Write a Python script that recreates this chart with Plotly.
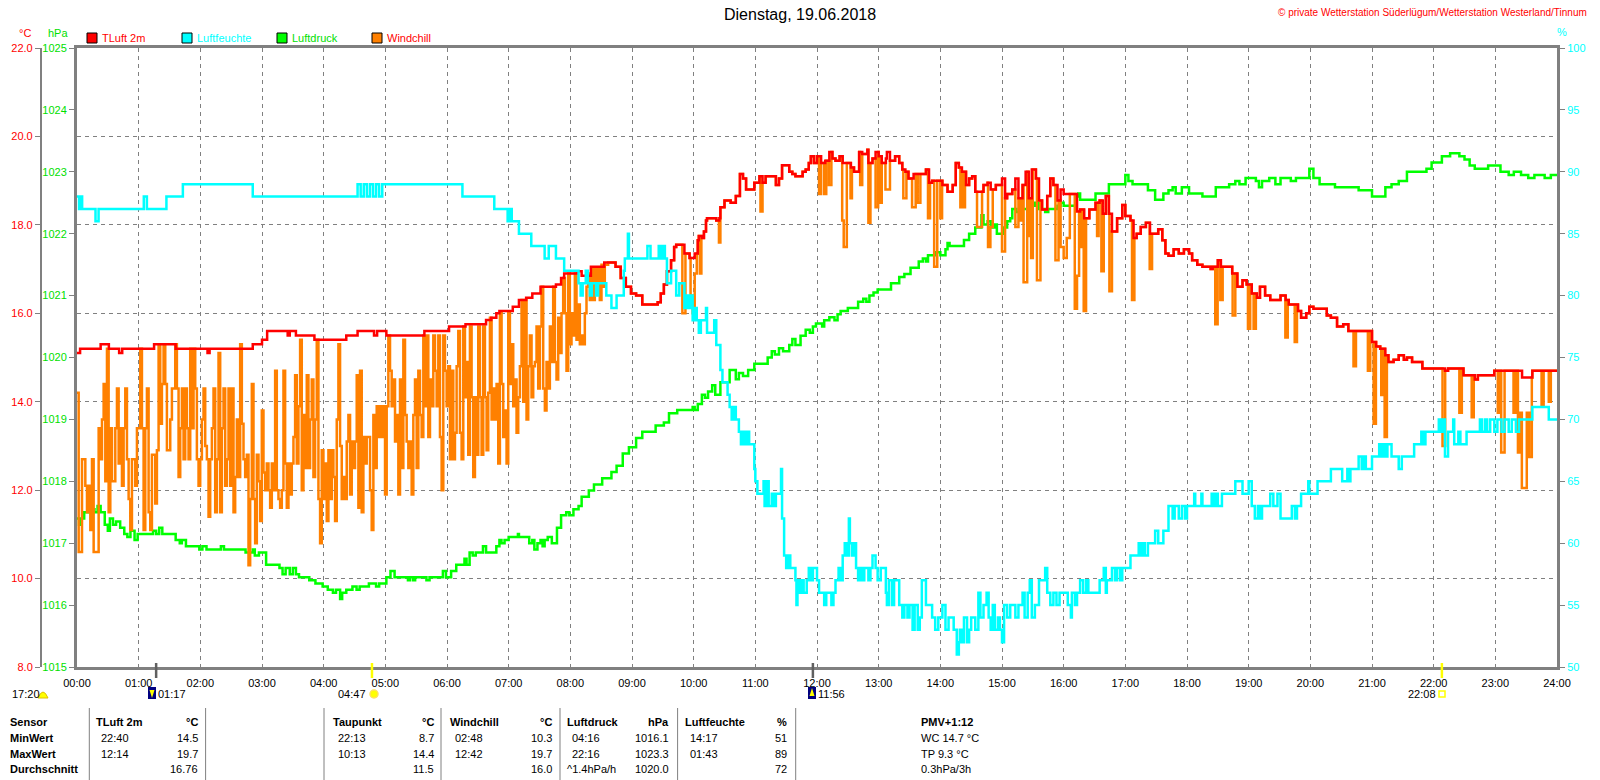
import bisect
import plotly.graph_objects as go

# ---------------------------------------------------------------- data
# times are minutes after midnight
tluft_min = [0, 3, 23, 31, 41, 44, 75, 96, 127, 129, 171, 180, 185, 205, 207, 213, 231, 262, 273, 289,
             292, 301, 338, 362, 378, 398, 403, 408, 411, 424, 430, 437, 443, 451, 466, 471, 474, 487,
             491, 500, 513, 524, 529, 534, 539, 544, 550, 565, 568, 571, 574, 578, 581, 583, 591, 596,
             601, 604, 605, 608, 610, 612, 613, 622, 625, 626, 630, 636, 641, 645, 648, 651, 659, 664,
             667, 670, 680, 683, 686, 693, 696, 699, 706, 709, 712, 714, 717, 720, 724, 728, 732, 735,
             738, 742, 745, 753, 756, 761, 764, 769, 770, 774, 777, 780, 783, 787, 788, 791, 796, 800,
             803, 806, 809, 814, 826, 829, 832, 842, 847, 852, 855, 858, 861, 865, 868, 871, 874, 882,
             886, 889, 894, 900, 903, 905, 910, 913, 916, 920, 923, 926, 929, 933, 936, 939, 944, 947,
             950, 954, 957, 960, 973, 976, 980, 985, 991, 995, 998, 1001, 1004, 1007, 1012, 1017, 1020,
             1025, 1028, 1031, 1035, 1040, 1044, 1052, 1056, 1059, 1062, 1067, 1072, 1077, 1082, 1085,
             1090, 1095, 1103, 1105, 1110, 1113, 1124, 1129, 1134, 1138, 1143, 1148, 1151, 1156, 1161,
             1171, 1176, 1179, 1188, 1191, 1196, 1199, 1203, 1216, 1220, 1226, 1232, 1237, 1260, 1264,
             1268, 1273, 1276, 1281, 1286, 1291, 1294, 1299, 1309, 1331, 1334, 1349, 1360, 1363, 1379,
             1406, 1416, 1440]
tluft_val = [15.1, 15.2, 15.3, 15.2, 15.1, 15.2, 15.3, 15.2, 15.1, 15.2, 15.3, 15.4, 15.6, 15.5, 15.6,
             15.5, 15.4, 15.5, 15.6, 15.5, 15.6, 15.5, 15.6, 15.7, 15.75, 15.85, 15.9, 16.0, 16.05,
             16.15, 16.3, 16.35, 16.45, 16.6, 16.65, 16.8, 16.9, 16.95, 16.85, 17.05, 17.15, 17.05,
             16.8, 16.6, 16.45, 16.4, 16.2, 16.25, 16.45, 16.65, 16.95, 17.2, 17.5, 17.55, 17.35, 17.25,
             17.35, 17.65, 17.75, 17.7, 17.85, 18.1, 18.15, 18.1, 18.15, 18.4, 18.55, 18.5, 18.65,
             19.15, 19.05, 18.8, 18.95, 19.1, 18.95, 19.1, 18.9, 19.05, 19.35, 19.2, 19.15, 19.1, 19.2,
             19.25, 19.4, 19.55, 19.4, 19.55, 19.4, 19.45, 19.65, 19.5, 19.45, 19.55, 19.4, 19.3, 19.2,
             19.65, 19.6, 19.7, 19.4, 19.5, 19.65, 19.55, 19.4, 19.5, 19.65, 19.45, 19.55, 19.4, 19.25,
             19.2, 19.05, 19.15, 19.25, 18.95, 19.0, 18.9, 18.75, 18.9, 19.4, 19.3, 19.2, 18.9, 19.05,
             19.1, 18.75, 18.9, 18.95, 18.8, 18.9, 19.05, 18.6, 18.7, 18.8, 19.05, 18.6, 18.9, 19.2,
             18.6, 19.25, 19.05, 18.55, 18.35, 18.65, 19.05, 18.9, 18.55, 18.8, 18.7, 18.3, 18.35,
             18.15, 18.35, 18.5, 18.55, 18.25, 18.65, 18.25, 17.85, 18.15, 18.45, 18.2, 18.1, 17.7,
             17.8, 17.95, 18.05, 17.8, 17.9, 17.65, 17.35, 17.3, 17.45, 17.35, 17.45, 17.35, 17.2, 17.1,
             17.05, 17.0, 17.05, 17.2, 17.05, 16.9, 16.6, 16.75, 16.65, 16.45, 16.35, 16.6, 16.4, 16.3,
             16.4, 16.3, 16.2, 16.05, 15.9, 16.0, 16.15, 16.1, 15.95, 15.9, 15.7, 15.75, 15.6, 15.35,
             15.25, 15.2, 15.05, 14.9, 14.95, 15.05, 14.95, 15.0, 14.9, 14.75, 14.7, 14.75, 14.6, 14.5,
             14.6, 14.7, 14.55, 14.7, 14.7]

feuchte_min = [0, 2, 4, 5, 18, 21, 65, 68, 87, 103, 171, 273, 276, 279, 282, 285, 288, 291, 294, 297,
               300, 375, 406, 419, 421, 423, 430, 442, 455, 459, 466, 474, 488,
               490, 492, 495, 497, 499, 501, 505, 507, 515, 520, 525, 532, 533, 536, 537, 555, 558, 566,
               568, 570, 572, 574, 578, 583, 586, 591, 593, 595, 597, 599, 601, 603, 605, 607, 612, 613,
               620, 622, 626, 628, 633, 635, 637, 639, 641, 644, 646, 648, 650, 652, 654, 659, 660, 662,
               668, 669, 671, 673, 676, 678, 680, 685, 686, 688, 690, 692, 694, 699, 700, 701, 703, 705,
               707, 710, 712, 714, 716, 720, 722, 727, 729, 734, 736, 738, 741, 743, 745, 747, 749, 751,
               752, 754, 756, 758, 760, 762, 764, 766, 770, 772, 774, 777, 779, 782, 787, 788, 790, 793,
               795, 800, 803, 805, 808, 810, 813, 815, 818, 820, 822, 826, 832, 835, 838, 842, 845, 848,
               853, 856, 858, 859, 861, 863, 866, 868, 870, 874, 877, 879, 882, 885, 887, 889, 891, 893,
               896, 898, 900, 902, 905, 908, 913, 916, 920, 922, 925, 927, 929, 932, 936, 942, 944, 947,
               950, 953, 956, 964, 967, 968, 971, 973, 976, 979, 982, 984, 995, 999, 1001, 1002, 1007,
               1010, 1012, 1015, 1017, 1025, 1033, 1035, 1037, 1039, 1042, 1049, 1052, 1057, 1062, 1066,
               1068, 1072, 1075, 1078, 1080, 1087, 1088, 1094, 1095, 1104, 1106, 1108, 1110, 1114, 1127,
               1134, 1140, 1143, 1146, 1149, 1151, 1153, 1161, 1164, 1168, 1171, 1182, 1185, 1187, 1191,
               1198, 1199, 1207, 1220, 1231, 1236, 1237, 1239, 1247, 1250, 1252, 1254, 1260, 1267, 1269,
               1271, 1273, 1275, 1279, 1286, 1289, 1301, 1308, 1310, 1312, 1325, 1327, 1329, 1331, 1334,
               1339, 1340, 1344, 1346, 1352, 1365, 1367, 1370, 1372, 1375, 1379, 1382, 1386, 1389, 1393,
               1396, 1400, 1403, 1416, 1432, 1440]
feuchte_val = [88, 87, 88, 87, 86, 87, 88, 87, 88, 89, 88, 89, 88, 89, 88, 89, 88, 89, 88, 89,
               89, 88, 87, 86, 87, 86, 85, 84, 83, 84, 83, 82, 81,
               80, 81, 82, 81, 80, 81, 80, 81, 80, 79, 80, 82, 83, 85, 83, 84, 83, 84,
               83, 84, 83, 81, 82, 80, 81, 79, 80, 79, 80, 78, 79, 78, 77, 78, 79, 77,
               78, 76, 74, 73, 72, 71, 70, 71, 70, 69, 68, 69, 68, 69, 68, 66, 65, 64,
               65, 63, 65, 63, 64, 63, 64, 66, 62, 59, 58, 59, 58, 57, 55, 57, 56, 57,
               56, 57, 58, 57, 58, 57, 56, 55, 56, 55, 56, 57, 58, 57, 59, 60, 59, 62,
               60, 59, 60, 58, 57, 58, 57, 58, 57, 58, 59, 58, 57, 58, 56, 55, 57, 55,
               57, 55, 54, 55, 54, 55, 53, 55, 53, 54, 57, 55, 54, 53, 54, 55, 53, 54,
               53, 51, 52, 53, 52, 54, 52, 53, 54, 53, 56, 54, 55, 56, 54, 53, 55, 53,
               54, 53, 52, 55, 54, 55, 54, 55, 56, 54, 56, 57, 54, 55, 57, 58, 56, 55,
               56, 55, 56, 55, 54, 56, 55, 56, 57, 56, 57, 56, 57, 58, 56, 57, 58,
               57, 58, 57, 58, 59, 60, 59, 60, 59, 60, 61, 60, 61, 63, 62,
               63, 62, 63, 62, 63, 64, 63, 64, 63, 64, 63, 64, 63, 64, 65,
               64, 65, 63, 62, 63, 62, 63, 64, 63, 64, 62, 63, 62, 63, 64,
               65, 64, 65, 66, 65, 66, 65, 66, 67, 66, 67, 66, 67, 68, 67,
               68, 67, 68, 67, 66, 67, 68, 69, 68, 69, 70, 69, 70, 67, 69,
               70, 68, 69, 68, 69, 70, 69, 70, 69, 70, 69, 70, 69, 70, 69,
               70, 69, 70, 71, 70, 70]

druck_min = [0, 2, 4, 7, 14, 17, 20, 23, 27, 30, 32, 35, 38, 42, 46, 49, 52, 56, 59, 74, 77, 80, 83,
             96, 100, 102, 106, 119, 122, 126, 140, 143, 164, 171, 173, 177, 184, 197, 200, 203, 207,
             210, 213, 216, 226, 232, 239, 244, 249, 252, 256, 258, 262, 268, 272, 275, 284, 291, 294,
             301, 305, 309, 322, 324, 327, 329, 340, 343, 356, 359, 364, 369, 377, 379, 382, 385, 388,
             395, 398, 408, 411, 413, 416, 420, 429, 430, 440, 443, 445, 448, 451, 453, 455, 458, 462,
             467, 471, 476, 479, 483, 488, 491, 498, 503, 511, 520, 525, 531, 537, 544, 550, 563, 571,
             576, 584, 599, 601, 604, 608, 611, 614, 618, 621, 626, 635, 641, 644, 648, 653, 659, 672,
             676, 679, 683, 687, 693, 696, 699, 704, 709, 713, 716, 719, 725, 727, 732, 737, 740, 743,
             750, 760, 765, 768, 771, 775, 779, 792, 800, 805, 811, 819, 823, 826, 828, 835, 840, 845,
             847, 849, 863, 868, 874, 880, 882, 886, 889, 893, 895, 902, 905, 908, 910, 914, 917, 929,
             932, 934, 936, 942, 945, 954, 957, 960, 972, 974, 976, 991, 1004, 1020, 1023, 1027, 1042,
             1049, 1057, 1062, 1066, 1069, 1075, 1082, 1095, 1108, 1121, 1127, 1131, 1137, 1147, 1150,
             1153, 1160, 1166, 1171, 1181, 1186, 1199, 1203, 1209, 1224, 1247, 1260, 1273, 1279, 1286,
             1294, 1313, 1318, 1328, 1336, 1345, 1350, 1355, 1360, 1373, 1385, 1393, 1398, 1405, 1412,
             1418, 1428, 1434, 1440]
druck_val = [1017.4, 1017.3, 1017.4, 1017.5, 1017.55, 1017.5, 1017.6, 1017.5, 1017.3, 1017.2, 1017.4,
             1017.3, 1017.35, 1017.25, 1017.15, 1017.1, 1017.2, 1017.05, 1017.15, 1017.2, 1017.15,
             1017.25, 1017.15, 1017.05, 1017.0, 1017.05, 1016.95, 1016.9, 1016.95, 1016.9, 1016.95,
             1016.9, 1016.85, 1016.9, 1016.8, 1016.85, 1016.65, 1016.6, 1016.5, 1016.6, 1016.5,
             1016.6, 1016.5, 1016.45, 1016.4, 1016.35, 1016.3, 1016.25, 1016.2, 1016.25, 1016.1,
             1016.2, 1016.25, 1016.3, 1016.25, 1016.3, 1016.35, 1016.3, 1016.35, 1016.45, 1016.55,
             1016.45, 1016.4, 1016.45, 1016.4, 1016.45, 1016.4, 1016.45, 1016.55, 1016.45, 1016.55,
             1016.65, 1016.75, 1016.65, 1016.85, 1016.8, 1016.85, 1016.95, 1016.85, 1016.95, 1017.05,
             1017.0, 1017.05, 1017.1, 1017.15, 1017.1, 1017.0, 1017.05, 1016.9, 1017.0, 1017.05,
             1016.95, 1017.05, 1017.1, 1017.0, 1017.25, 1017.45, 1017.5, 1017.45, 1017.55, 1017.6,
             1017.75, 1017.85, 1017.95, 1018.05, 1018.15, 1018.25, 1018.45, 1018.55, 1018.7, 1018.8,
             1018.9, 1018.95, 1019.1, 1019.15, 1019.2, 1019.15, 1019.25, 1019.4, 1019.35, 1019.45,
             1019.55, 1019.4, 1019.6, 1019.8, 1019.65, 1019.75, 1019.7, 1019.8, 1019.9, 1020.0,
             1020.1, 1020.05, 1020.15, 1020.1, 1020.2, 1020.3, 1020.2, 1020.35, 1020.45, 1020.4,
             1020.5, 1020.55, 1020.5, 1020.6, 1020.65, 1020.6, 1020.7, 1020.75, 1020.8, 1020.9,
             1020.95, 1020.9, 1021.0, 1021.05, 1021.1, 1021.2, 1021.3, 1021.35, 1021.45, 1021.55,
             1021.6, 1021.55, 1021.65, 1021.7, 1021.65, 1021.75, 1021.85, 1021.8, 1021.9, 1022.0,
             1022.1, 1022.3, 1022.15, 1022.2, 1022.1, 1022.15, 1022.0, 1022.1, 1022.2, 1022.25,
             1022.4, 1022.35, 1022.4, 1022.5, 1022.45, 1022.5, 1022.4, 1022.35, 1022.4, 1022.45,
             1022.5, 1022.45, 1022.6, 1022.65, 1022.55, 1022.65, 1022.8, 1022.95, 1022.85, 1022.8,
             1022.7, 1022.55, 1022.65, 1022.7, 1022.75, 1022.65, 1022.75, 1022.65, 1022.6, 1022.75,
             1022.8, 1022.85, 1022.8, 1022.9, 1022.85, 1022.75, 1022.85, 1022.9, 1022.8, 1022.9,
             1022.85, 1022.9, 1023.05, 1022.9, 1022.8, 1022.75, 1022.7, 1022.6, 1022.75, 1022.8,
             1022.85, 1023.0, 1023.05, 1023.15, 1023.25, 1023.3, 1023.25, 1023.2, 1023.1, 1023.05,
             1023.1, 1023.0, 1022.95, 1023.0, 1022.95, 1022.9, 1022.95, 1022.9, 1022.95, 1022.95]

# windchill, gusty night/morning: one reading per log step from 00:00
wc_log_step = 1.62  # minutes
wc_log = [14.2, 10.6, 10.6, 12.7, 12.7, 12.1, 11.5, 12.1, 11.1, 12.7, 10.6, 10.6, 10.6, 13.4, 12.7, 13.6,
          14.4, 12.2, 15.2, 11.5, 13.4, 12.2, 12.2, 13.4, 14.3, 12.6, 13.4, 12.1, 13.4, 14.3, 12.7, 11.8,
          11.1, 12.7, 12.7, 12.1, 13.4, 13.4, 15.2, 13.4, 11.1, 13.4, 14.3, 11.5, 11.1, 12.8, 12.8, 11.7,
          12.9, 15.3, 13.5, 14.4, 15.3, 14.4, 12.9, 12.9, 13.6, 14.3, 14.3, 15.3, 14.3, 12.3, 13.4, 14.3,
          12.7, 14.3, 13.4, 12.7, 15.2, 13.4, 15.2, 14.3, 12.7, 12.1, 12.7, 13.6, 14.3, 13.0, 12.7, 11.4,
          12.7, 13.4, 14.3, 11.5, 12.7, 15.1, 11.5, 13.4, 14.3, 12.1, 12.7, 14.3, 12.1, 14.3, 11.5, 12.3,
          13.6, 12.3, 15.3, 13.5, 12.7, 12.3, 12.8, 10.3, 11.8, 14.4, 11.8, 10.8, 12.8, 12.2, 11.3, 13.8,
          12.4, 12.0, 12.6, 12.0, 11.6, 12.6, 12.0, 14.7, 12.0, 11.8, 11.6, 12.0, 14.7, 12.6, 11.6, 12.6,
          11.9, 12.6, 13.2, 14.6, 12.6, 13.9, 15.4, 12.0, 13.7, 12.5, 14.6, 12.5, 13.6, 14.5, 12.3, 13.6,
          15.4, 11.8, 10.8, 12.9, 11.8, 12.6, 11.3, 12.9, 11.8, 12.9, 12.3, 11.3, 13.6, 15.3, 13.0, 11.8,
          12.3, 11.8, 13.1, 13.7, 11.9, 13.1, 12.5, 13.1, 14.6, 11.6, 14.7, 11.5, 13.2, 12.6, 13.2, 13.2,
          12.0, 11.1, 13.7, 12.5, 13.9, 13.2, 13.9, 13.2, 13.9, 11.9, 13.9, 15.5, 14.7, 13.9, 14.5, 13.1,
          13.7, 11.9, 14.5, 12.5, 15.4, 13.7, 13.1, 12.5, 13.1, 11.9, 13.7, 14.5, 12.5, 14.7, 13.7, 13.2,
          15.5, 13.9, 15.5, 13.2, 14.5, 13.9, 15.5, 14.7, 13.9, 15.5, 13.2, 12.0, 15.5, 14.7, 13.9, 14.8,
          12.7, 14.7, 12.7, 13.3, 14.8, 15.6, 13.3, 12.7, 15.7, 14.1, 14.9, 12.8, 15.7, 14.1, 12.3, 14.1,
          12.8, 15.7, 14.1, 12.8, 15.7, 14.1, 12.9, 14.2, 15.9, 13.6, 14.3, 13.6, 14.4, 12.6, 16.0, 14.4,
          13.2, 13.8, 12.6, 16.0, 14.4, 15.3, 13.9, 14.5, 13.3, 14.1, 14.8, 16.3, 14.0, 16.3, 13.6, 14.8,
          15.5, 14.1, 14.8, 14.9, 15.7, 14.3, 15.7, 16.6, 14.3, 13.8, 14.9, 14.3, 15.7, 14.9, 16.6, 14.9,
          14.5, 15.9, 15.1, 16.0, 16.8, 16.0, 14.7, 16.9, 15.3, 16.0, 15.5, 16.9, 15.4, 16.2, 15.3, 15.5,
          15.3, 16.0, 16.6, 16.9, 16.3, 17.0, 16.3, 17.0, 16.6, 17.0, 16.3, 17.1, 16.6, 17.1, 17.1]

# later in the day windchill equals air temperature except for these gust dips
wc_dip_from = [589, 597, 599, 601, 606, 624.6, 665, 722, 727, 731.5, 744.5, 746, 752.6, 762, 770, 777,
               781, 786.6, 804, 812.5, 818, 828, 834, 840, 859.5, 863, 875.7, 886.4, 888.7, 900, 913,
               918, 921, 925.5, 928.3, 934, 952, 957, 960, 963, 970.8, 973, 977, 979.5, 992.5, 996.7,
               1004.5, 1026.5, 1043.7, 1107.5, 1112.4, 1124.4, 1139.3, 1144.8, 1175.7, 1184.8, 1242,
               1256, 1261.6, 1269, 1272.3, 1328.6, 1345, 1357, 1382.4, 1385.7, 1397.7, 1402, 1404,
               1405.8, 1410.6, 1413, 1425, 1432]
wc_dip_to = [592, 599, 601, 603, 607.5, 626, 667, 724, 729, 734, 746, 749, 754, 764, 772, 779.5,
             783, 791, 807, 816, 820.6, 830, 837, 841.7, 861, 864, 880.6, 888.7, 891, 903, 916,
             919.6, 924.5, 927.7, 930, 937.4, 955, 960, 963, 966, 973, 975, 978.6, 981.8, 994, 999,
             1007, 1028.8, 1046, 1109.8, 1114.7, 1127, 1141.5, 1147, 1178, 1187, 1244.4,
             1258.3, 1263.8, 1271.3, 1274.5, 1331.2, 1347.4, 1359, 1384.7, 1389, 1400, 1404, 1405.8,
             1410.6, 1413, 1415.5, 1427, 1434]
wc_dip_val = [16.0, 16.4, 16.0, 16.9, 16.9, 17.6, 18.3, 18.7, 18.7, 18.9, 18.1, 17.5, 18.6, 18.9, 18.05,
              18.4, 18.5, 18.8, 18.6, 18.4, 18.5, 18.15, 17.05, 18.15, 18.4, 18.4, 17.95, 17.5, 17.95,
              17.4, 17.95, 18.1, 16.7, 17.75, 17.25, 16.75, 17.2, 17.5, 17.25, 17.7, 16.1, 16.85, 17.5,
              16.05, 17.75, 16.95, 16.5, 16.3, 17.0, 15.75, 16.3, 15.95, 15.65, 15.65, 15.45, 15.35,
              14.8, 14.7, 13.5, 14.15, 13.2, 13.0, 13.75, 13.65, 13.75, 12.85, 13.75, 12.85, 13.75,
              12.05, 13.75, 12.75, 13.9, 14.0]

hour_labels = ["%02d:00" % h for h in range(25)]
# sun / moon events of the day
astro_marks = ["01:17", "04:47", "11:56", "22:08"]
astro_colors = ["#606060", "#FFFF00", "#606060", "#FFFF00"]

table_header = ["Sensor", "TLuft 2m", "°C", "Taupunkt", "°C", "Windchill", "°C",
                "Luftdruck", "hPa", "Luftfeuchte", "%", "PMV+1:12"]
row_names = ["MinWert", "MaxWert", "Durchschnitt"]
tluft_stats = [["22:40", "14.5"], ["12:14", "19.7"], ["", "16.76"]]
taupunkt_stats = [["22:13", "8.7"], ["10:13", "14.4"], ["", "11.5"]]
windchill_stats = [["02:48", "10.3"], ["12:42", "19.7"], ["", "16.0"]]
druck_stats = [["04:16", "1016.1"], ["22:16", "1023.3"], ["^1.4hPa/h", "1020.0"]]
feuchte_stats = [["14:17", "51"], ["01:43", "89"], ["", "72"]]
pmv_lines = ["WC 14.7 °C", "TP 9.3 °C", "0.3hPa/3h"]

# ---------------------------------------------------------------- helpers
W, H = 1600, 780
TOP, BOT = 48, 667          # plot area in page pixels
X0, X1 = 77.0, 1557.0
FONT = "Liberation Sans, Arial, sans-serif"
GRAY = "#808080"
RED, CYAN, GREEN, ORANGE = "#FF0000", "#00FFFF", "#00FF00", "#FF8000"


def px(x):
    return x / W


def py(y):
    return (BOT - y) / (BOT - TOP)


def hours(mins):
    return [m / 60.0 for m in mins]


def hhmm(s):
    h, m = s.split(":")
    return int(h) + int(m) / 60.0


def temp_at(t):
    i = bisect.bisect_right(tluft_min, t) - 1
    return tluft_val[max(i, 0)]


def wc_later(t):
    for a, b, v in zip(wc_dip_from, wc_dip_to, wc_dip_val):
        if a <= t < b:
            return v
    return temp_at(t)


# windchill series: logged part, then air temperature with gust dips
wc_t = [k * wc_log_step for k in range(len(wc_log))]
wc_v = list(wc_log)
t_end = wc_t[-1]
later = sorted(set([t_end + wc_log_step] + [t for t in tluft_min if t > t_end + wc_log_step]
                   + wc_dip_from + wc_dip_to))
for t in later:
    wc_t.append(t)
    wc_v.append(wc_later(t))

fig = go.Figure()

fig.add_trace(go.Scatter(x=hours(wc_t), y=wc_v, mode="lines", line=dict(color=ORANGE, width=2.5, shape="hv"),
                         yaxis="y2", name="Windchill"))
fig.add_trace(go.Scatter(x=hours(druck_min), y=druck_val, mode="lines",
                         line=dict(color=GREEN, width=2.5, shape="hv"), yaxis="y", name="Luftdruck"))
fig.add_trace(go.Scatter(x=hours(feuchte_min), y=feuchte_val, mode="lines",
                         line=dict(color=CYAN, width=2.5, shape="hv"), yaxis="y3", name="Luftfeuchte"))
fig.add_trace(go.Scatter(x=hours(tluft_min), y=tluft_val, mode="lines",
                         line=dict(color=RED, width=2.5, shape="hv"), yaxis="y2", name="TLuft 2m"))

fig.update_layout(
    template="none",
    width=W, height=H, autosize=False,
    margin=dict(l=0, r=0, t=TOP, b=H - BOT, pad=0),
    paper_bgcolor="white", plot_bgcolor="white",
    showlegend=False, hovermode=False,
    font=dict(family=FONT, size=11, color="black"),
    xaxis=dict(domain=[px(X0), px(X1)], range=[0, 24], tickvals=list(range(25)), ticktext=hour_labels,
               showgrid=True, gridcolor=GRAY, gridwidth=1, griddash="4px,4px", automargin=False,
               showline=True, linecolor=GRAY, linewidth=3, mirror=True, ticks="",
               ticklabelstandoff=4, zeroline=False, tickfont=dict(size=11, color="black")),
    yaxis=dict(range=[1015, 1025], dtick=1, anchor="x", side="left", automargin=False,
               showgrid=False, zeroline=False, showline=True, linecolor=GRAY, linewidth=3,
               ticks="outside", ticklen=5, tickcolor=GRAY, tickfont=dict(color="#00E000", size=11)),
    yaxis2=dict(range=[8, 22], dtick=2, tickformat=".1f", overlaying="y", anchor="free",
                position=px(40.7), side="left", showgrid=True, gridcolor=GRAY, gridwidth=1,
                griddash="4px,4px", zeroline=False, showline=True, linecolor=GRAY, linewidth=1.5,
                automargin=False,
                ticks="outside", ticklen=5, tickcolor=GRAY, tickfont=dict(color=RED, size=11)),
    yaxis3=dict(range=[50, 100], dtick=5, overlaying="y", anchor="x", side="right", automargin=False,
                showgrid=False, zeroline=False, showline=True, linecolor=GRAY, linewidth=3,
                ticks="outside", ticklen=5, tickcolor=GRAY, tickfont=dict(color=CYAN, size=11)),
)

ann = []
shapes = []


def text(x, y, s, color="black", size=11, anchor="left", bold=False):
    ann.append(dict(x=px(x), y=py(y), xref="paper", yref="paper", text=("<b>%s</b>" % s) if bold else s,
                    showarrow=False, xanchor=anchor, yanchor="middle", borderpad=0,
                    font=dict(family=FONT, size=size, color=color)))


# header
text(800, 15, "Dienstag, 19.06.2018", size=16, anchor="center")
text(1588, 13, "© private Wetterstation Süderlügum/Wetterstation Westerland/Tinnum", color=RED, size=10,
     anchor="right")
text(25, 33, "°C", color=RED, anchor="center")
text(58, 33, "hPa", color="#00E000", anchor="center")
text(1562, 32, "%", color=CYAN, anchor="center")

# legend boxes
for x, name, fill, tcol in [(87, "TLuft 2m", RED, RED), (182, "Luftfeuchte", CYAN, CYAN),
                            (277, "Luftdruck", GREEN, "#00E000"), (372, "Windchill", ORANGE, RED)]:
    shapes.append(dict(type="rect", xref="paper", yref="paper", x0=px(x), x1=px(x + 10),
                       y0=py(43), y1=py(33), fillcolor=fill, line=dict(color="black", width=1)))
    text(x + 14, 38, name, color=tcol)

# sun / moon markers on the time axis
for t, c in zip(astro_marks, astro_colors):
    shapes.append(dict(type="line", xref="x", yref="paper", x0=hhmm(t), x1=hhmm(t),
                       y0=py(678), y1=py(663), line=dict(color=c, width=2.5)))

text(11, 694, "17:20")
shapes.append(dict(type="path", xref="paper", yref="paper",
                   path="M %f,%f Q %f,%f %f,%f Z" % (px(38), py(698), px(43), py(686), px(48), py(698)),
                   fillcolor="#FFFF00", line=dict(color="#E0C000", width=1)))
for xr, t, up in [(148, "01:17", False), (808, "11:56", True)]:
    shapes.append(dict(type="rect", xref="paper", yref="paper", x0=px(xr), x1=px(xr + 8),
                       y0=py(699), y1=py(687), fillcolor="#000080", line=dict(width=0)))
    text(xr + 9, 694, t)
    tip, base = (688, 696) if up else (698, 690)
    shapes.append(dict(type="path", xref="paper", yref="paper",
                       path="M %f,%f L %f,%f L %f,%f Z" % (px(xr + 1.5), py(base), px(xr + 6.5), py(base),
                                                           px(xr + 4), py(tip)),
                       fillcolor="#FFFF00", line=dict(width=0)))
text(367, 694, "04:47", anchor="right")
shapes.append(dict(type="circle", xref="paper", yref="paper", x0=px(370), x1=px(378), y0=py(698),
                   y1=py(690), fillcolor="#FFFF00", line=dict(color="#FFE060", width=1.5)))
text(1437, 694, "22:08", anchor="right")
shapes.append(dict(type="rect", xref="paper", yref="paper", x0=px(1439), x1=px(1445), y0=py(697),
                   y1=py(691), line=dict(color="#FFFF00", width=1.5)))

# statistics table
for xs in [89.3, 205.6, 324, 441, 560, 677.6, 795.7]:
    shapes.append(dict(type="line", xref="paper", yref="paper", x0=px(xs), x1=px(xs), y0=py(708),
                       y1=py(780), line=dict(color=GRAY, width=1)))

rows_y = [738, 753.5, 769]
text(9, 722, table_header[0], bold=True)
for name, y in zip(row_names, rows_y):
    text(9, y, name, bold=True)

for (xl, xr, hi, stats) in [(95.4, 199, 1, tluft_stats), (331.6, 435, 3, taupunkt_stats),
                            (449, 553, 5, windchill_stats), (566, 670, 7, druck_stats),
                            (683.7, 788, 9, feuchte_stats)]:
    text(xl, 722, table_header[hi], bold=True)
    text(xr, 722, table_header[hi + 1], bold=True, anchor="right")
    for (tm, val), y in zip(stats, rows_y):
        if tm:
            text(xl + (0 if tm.startswith("^") else 5), y, tm)
        text(xr, y, val, anchor="right")

text(920, 722, table_header[-1], bold=True)
for s, y in zip(pmv_lines, rows_y):
    text(920, y, s)

fig.update_layout(annotations=ann, shapes=shapes)

fig.write_html("out.html", include_plotlyjs=True, config={"displayModeBar": False},
               post_script="document.body.style.margin='0';document.body.style.overflow='hidden';")
